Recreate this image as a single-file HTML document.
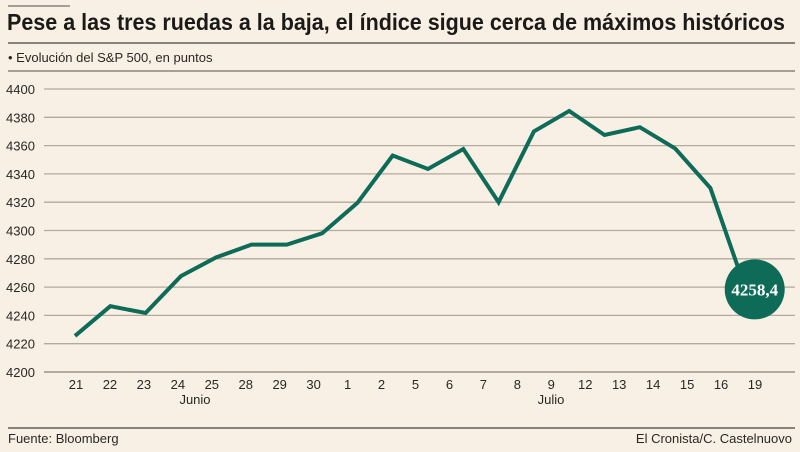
<!DOCTYPE html>
<html><head><meta charset="utf-8"><style>
body{margin:0;background:#f8f0e5;}
svg{display:block;font-family:"Liberation Sans",sans-serif;}
</style></head><body>
<svg width="800" height="452" viewBox="0 0 800 452">
<rect width="800" height="452" fill="#f8f0e5"/>
<line x1="8" y1="6" x2="70" y2="6" stroke="#8a837c" stroke-width="1.5"/>
<text x="7" y="30" font-size="23" font-weight="bold" fill="#1c1a18" textLength="778" lengthAdjust="spacingAndGlyphs">Pese a las tres ruedas a la baja, el índice sigue cerca de máximos históricos</text>
<line x1="8" y1="43" x2="795" y2="43" stroke="#8a837c" stroke-width="2"/>
<text x="8" y="62" font-size="13" fill="#2a2724">• Evolución del S&amp;P 500, en puntos</text>
<line x1="8" y1="71" x2="795" y2="71" stroke="#8a837c" stroke-width="1.5"/>
<g id="grid"></g>
<g id="xl"></g>
<text x="195" y="404" font-size="13" fill="#2a2724" text-anchor="middle">Junio</text>
<text x="551" y="404" font-size="13" fill="#2a2724" text-anchor="middle">Julio</text>
<polyline id="line" fill="none" stroke="#0e6b58" stroke-width="4" stroke-linejoin="miter"/>
<circle id="dot" r="30" fill="#0e6b58"/>
<text id="dotlbl" font-size="17" font-weight="bold" fill="#fff" text-anchor="middle" font-family="Liberation Serif,serif">4258,4</text>
<line x1="8" y1="428" x2="795" y2="428" stroke="#8a837c" stroke-width="2"/>
<text x="8" y="443" font-size="13" fill="#2a2724">Fuente: Bloomberg</text>
<text x="792" y="443" font-size="13" fill="#2a2724" text-anchor="end">El Cronista/C. Castelnuovo</text>
</svg>
<script>
const yTicks=[4200,4220,4240,4260,4280,4300,4320,4340,4360,4380,4400];
const xLabels=["21","22","23","24","25","28","29","30","1","2","5","6","7","8","9","12","13","14","15","16","19"];
const values=[4225.5,4246.5,4241.7,4267.8,4281,4290,4290,4298,4319.5,4353,4343.5,4357.6,4320,4370,4384.5,4367.5,4373,4358,4330,4258.4];
const NS="http://www.w3.org/2000/svg";
function y(v){return 372-(v-4200)*283/200;}
function xl(i){return 76+i*33.95;}
function xp(i){return 75+i*35.3;}
const grid=document.getElementById('grid');
yTicks.forEach(t=>{
 const l=document.createElementNS(NS,'line');
 l.setAttribute('x1',44);l.setAttribute('x2',795);l.setAttribute('y1',y(t));l.setAttribute('y2',y(t));
 l.setAttribute('stroke','#b3aa9f');l.setAttribute('stroke-width',t===4200?2:1.3);
 
 
 grid.appendChild(l);
 const tx=document.createElementNS(NS,'text');
 tx.setAttribute('x',6);tx.setAttribute('y',y(t)+5);tx.setAttribute('font-size','13');tx.setAttribute('fill','#2a2724');
 tx.textContent=t;
 
 
 grid.appendChild(tx);
});
const xg=document.getElementById('xl');
xLabels.forEach((s,i)=>{
 const tx=document.createElementNS(NS,'text');
 tx.setAttribute('x',xl(i));tx.setAttribute('y',389);tx.setAttribute('font-size','13');tx.setAttribute('fill','#2a2724');tx.setAttribute('text-anchor','middle');
 tx.textContent=s;
 
 
 xg.appendChild(tx);
});
document.getElementById('line').setAttribute('points',values.map((v,i)=>xp(i)+','+y(v)).join(' '));
const li=values.length-1;
const cx=xp(li)+9, cy=y(values[li]);
const d=document.getElementById('dot');d.setAttribute('cx',cx);d.setAttribute('cy',cy);
const dl=document.getElementById('dotlbl');dl.setAttribute('x',cx);dl.setAttribute('y',cy+6);
dl.textContent=values[li].toFixed(1).replace('.',',');
</script>
</body></html>
